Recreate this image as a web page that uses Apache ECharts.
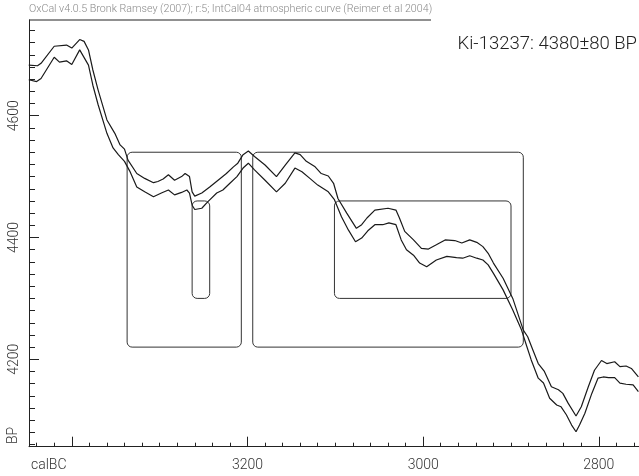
<!DOCTYPE html>
<html>
<head>
<meta charset="utf-8">
<script src="https://cdn.jsdelivr.net/npm/echarts@6/dist/echarts.min.js"></script>
<style>html,body{margin:0;padding:0;background:#fff}#c{width:639px;height:476px}</style>
</head>
<body>
<div id="c"></div>
<script>
// Calibration curve (IntCal04), upper and lower bounds: calBC year, BP value
const upperYears = [3449,3439,3435,3420,3406,3400,3391,3386,3381,3376,3370,3360,3351,3345,3340,3336,3326,3317,3307,3302,3296,3290,3283,3275,3271,3266,3263,3260,3252,3243,3231,3224,3216,3211,3205,3199,3192,3180,3167,3157,3146,3140,3133,3123,3116,3108,3102,3097,3087,3076,3070,3064,3055,3040,3031,3027,3021,3011,3002,2994,2985,2975,2964,2956,2947,2939,2932,2926,2920,2909,2898,2886,2881,2875,2869,2862,2854,2846,2841,2835,2826,2820,2812,2805,2797,2791,2782,2776,2769,2763,2755];
const upperBP = [4683,4682,4686,4714,4716,4711,4725,4722,4708,4675,4642,4593,4571,4552,4545,4527,4505,4497,4490,4492,4496,4503,4494,4500,4505,4500,4475,4468,4473,4483,4497,4505,4516,4522,4536,4542,4533,4519,4500,4519,4539,4536,4525,4516,4505,4501,4489,4464,4440,4415,4421,4432,4445,4448,4445,4432,4410,4396,4382,4381,4388,4396,4395,4391,4396,4392,4385,4374,4358,4333,4300,4248,4237,4215,4193,4180,4155,4150,4144,4128,4107,4122,4155,4182,4198,4193,4196,4188,4189,4185,4171];
const lowerYears = [3449,3440,3435,3420,3414,3406,3400,3391,3381,3376,3370,3360,3353,3347,3340,3334,3326,3317,3307,3298,3290,3283,3275,3269,3266,3263,3260,3252,3245,3235,3228,3220,3212,3205,3199,3192,3180,3167,3157,3146,3138,3129,3120,3108,3101,3093,3085,3077,3070,3063,3055,3046,3039,3031,3025,3019,3011,3004,2996,2985,2973,2962,2955,2947,2939,2932,2926,2920,2909,2898,2888,2882,2877,2869,2863,2856,2848,2843,2837,2831,2826,2822,2816,2808,2801,2795,2789,2782,2776,2769,2761,2755];
const lowerBP = [4659,4656,4661,4696,4688,4690,4684,4708,4683,4650,4618,4571,4547,4536,4525,4509,4483,4475,4467,4473,4478,4470,4474,4478,4473,4453,4446,4448,4459,4473,4478,4489,4500,4514,4522,4511,4494,4475,4489,4514,4508,4497,4486,4475,4462,4434,4412,4393,4399,4411,4421,4421,4424,4421,4396,4380,4371,4358,4352,4363,4369,4367,4366,4370,4366,4363,4355,4341,4314,4281,4248,4221,4199,4169,4161,4136,4125,4122,4109,4092,4081,4092,4111,4144,4169,4171,4170,4170,4161,4159,4158,4147];

// Calibrated ranges (calBC from, to) and the measurement band (BP)
const rangeStart95 = [3337, 3194];
const rangeEnd95   = [3207, 2886];
const band95 = [4220, 4540];
const rangeStart68 = [3263, 3101];
const rangeEnd68   = [3243, 2900];
const band68 = [4300, 4460];

// Tick positions
const xMajorTicks = [3400, 3200, 3000, 2800];
const xLabels = [3200, 3000, 2800];
const xMinorTicks = [];
for (let v = 3440; v >= 2760; v -= 20) xMinorTicks.push(v);
const yMajorTicks = [4600, 4400, 4200];
const yLabels = [4600, 4400, 4200];
const yMinorTicks = [];
for (let v = 4060; v <= 4740; v += 20) yMinorTicks.push(v);

const titleText = 'OxCal v4.0.5 Bronk Ramsey (2007); r:5; IntCal04 atmospheric curve (Reimer et al 2004)';
const sampleText = 'Ki-13237: 4380\u00b180 BP';

const X_MIN = 2754.3, X_MAX = 3448.7, Y_MIN = 4056.5, Y_MAX = 4757.1;
const FONT = 'Roboto';

const upper = upperYears.map((y, i) => [y, upperBP[i]]);
const lower = lowerYears.map((y, i) => [y, lowerBP[i]]);
const boxes = [];
rangeStart95.forEach((s, i) => boxes.push([s, rangeEnd95[i], band95[0], band95[1]]));
rangeStart68.forEach((s, i) => boxes.push([s, rangeEnd68[i], band68[0], band68[1]]));

const chart = echarts.init(document.getElementById('c'), null, {renderer: 'canvas'});
const plain = v => String(v);
const axisCommon = {type: 'value', min: X_MIN, max: X_MAX, inverse: true, position: 'bottom', splitLine: {show: false}};
const yCommon = {type: 'value', min: Y_MIN, max: Y_MAX, position: 'left', splitLine: {show: false}};
chart.setOption({
  animation: false,
  grid: {left: 29, top: 20, width: 610, height: 426.7},
  xAxis: [
    Object.assign({}, axisCommon, {
      axisLine: {show: true, lineStyle: {color: '#222', width: 1}},
      axisTick: {show: true, inside: true, length: 10, customValues: xMajorTicks, lineStyle: {color: '#222'}},
      axisLabel: {show: true, customValues: xLabels, formatter: plain, margin: 12, fontSize: 14, color: '#333', fontFamily: FONT, fontWeight: 300}
    }),
    Object.assign({}, axisCommon, {
      axisLine: {show: false},
      axisTick: {show: true, inside: true, length: 4, customValues: xMinorTicks, lineStyle: {color: '#222'}},
      axisLabel: {show: false}
    })
  ],
  yAxis: [
    Object.assign({}, yCommon, {
      axisLine: {show: true, lineStyle: {color: '#222', width: 1}},
      axisTick: {show: true, inside: true, length: 10, customValues: yMajorTicks, lineStyle: {color: '#222'}},
      axisLabel: {show: true, customValues: yLabels, formatter: plain, rotate: 90, margin: 8, fontSize: 14, color: '#333', fontFamily: FONT, fontWeight: 300}
    }),
    Object.assign({}, yCommon, {
      axisLine: {show: false},
      axisTick: {show: true, inside: true, length: 6, customValues: yMinorTicks, lineStyle: {color: '#222'}},
      axisLabel: {show: false}
    })
  ],
  graphic: [
    {type: 'text', left: 29, top: 4, style: {text: titleText, fontSize: 10.7, fill: '#8a8a8a', fontFamily: FONT, fontWeight: 300}},
    {type: 'line', shape: {x1: 29, y1: 20, x2: 431, y2: 20}, style: {stroke: '#222', lineWidth: 1}},
    {type: 'text', right: 2, top: 35, style: {text: sampleText, fontSize: 18.5, fill: '#222', fontFamily: FONT, fontWeight: 300}},
    {type: 'text', left: 31, top: 458, style: {text: 'calBC', fontSize: 14, fill: '#333', fontFamily: FONT, fontWeight: 300}},
    {type: 'text', x: 20, y: 444, rotation: Math.PI / 2, style: {text: 'BP', fontSize: 14, fill: '#333', fontFamily: FONT, fontWeight: 300, align: 'left', verticalAlign: 'bottom'}}
  ],
  series: [
    {type: 'line', data: upper, showSymbol: false, clip: true, lineStyle: {color: '#1a1a1a', width: 1.2}},
    {type: 'line', data: lower, showSymbol: false, clip: true, lineStyle: {color: '#1a1a1a', width: 1.2}},
    {
      type: 'custom', data: boxes, clip: true,
      renderItem: function (params, api) {
        const p1 = api.coord([api.value(0), api.value(3)]);
        const p2 = api.coord([api.value(1), api.value(2)]);
        const x = Math.min(p1[0], p2[0]), y = Math.min(p1[1], p2[1]);
        return {
          type: 'rect',
          shape: {x: x, y: y, width: Math.abs(p2[0] - p1[0]), height: Math.abs(p2[1] - p1[1]), r: 5},
          style: {fill: 'none', stroke: '#333', lineWidth: 1}
        };
      }
    }
  ]
});
</script>
</body>
</html>
